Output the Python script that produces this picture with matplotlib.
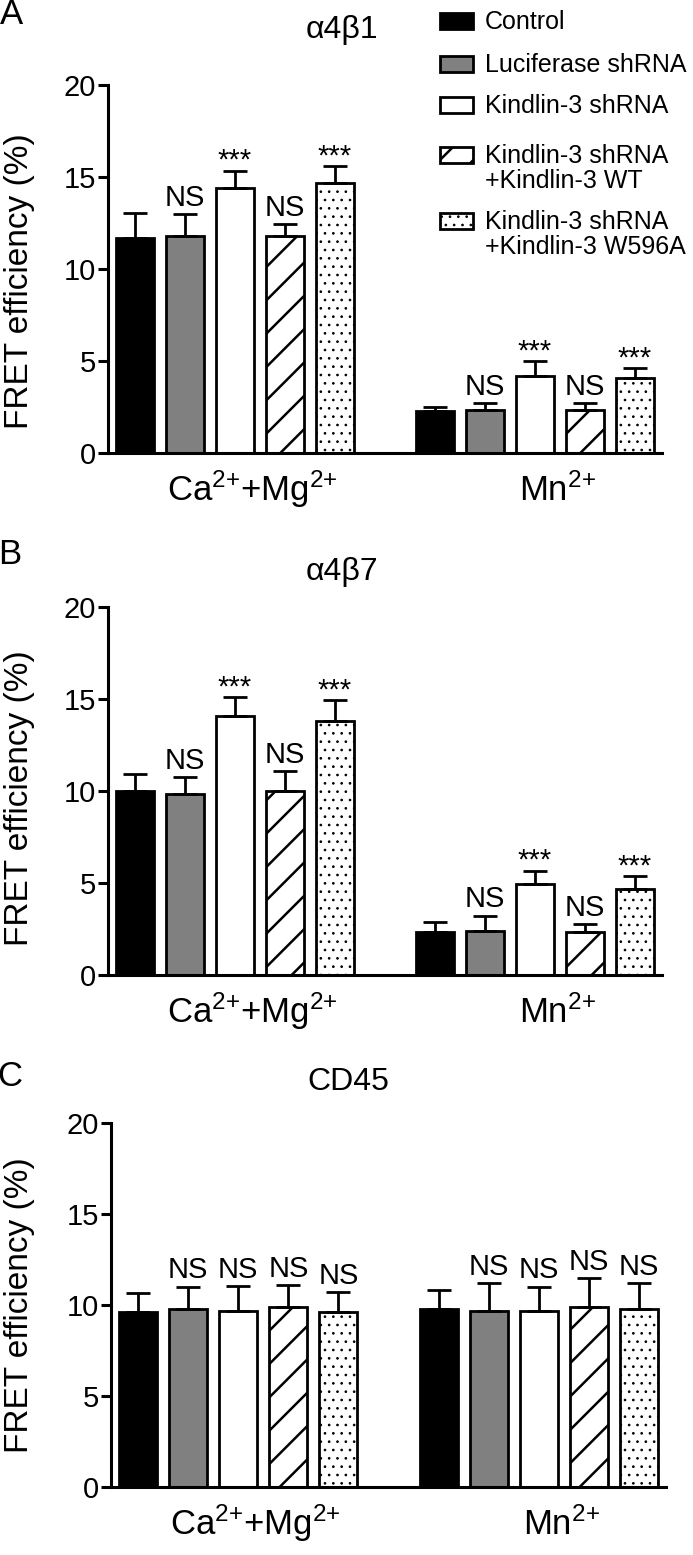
import matplotlib
matplotlib.use("Agg")
import matplotlib.pyplot as plt
import matplotlib.transforms as mtransforms
from matplotlib.patches import Rectangle

plt.rcParams['font.family'] = ['Liberation Sans', 'DejaVu Sans']
plt.rcParams['mathtext.default'] = 'regular'
plt.rcParams['hatch.linewidth'] = 1.8

# ---- data ----
groups = ['Ca$^{2{+}}$+Mg$^{2{+}}$', 'Mn$^{2{+}}$']
conditions = ['Control', 'Luciferase shRNA', 'Kindlin-3 shRNA',
              'Kindlin-3 shRNA\n+Kindlin-3 WT', 'Kindlin-3 shRNA\n+Kindlin-3 W596A']

a4b1_mean = [[11.7, 11.8, 14.4, 11.8, 14.7], [2.3, 2.35, 4.2, 2.35, 4.05]]
a4b1_err = [[1.35, 1.2, 0.95, 0.65, 0.9], [0.2, 0.35, 0.8, 0.35, 0.57]]
a4b1_sig = [['', 'NS', '***', 'NS', '***'], ['', 'NS', '***', 'NS', '***']]

a4b7_mean = [[10.0, 9.85, 14.1, 10.0, 13.8], [2.32, 2.41, 4.94, 2.35, 4.67]]
a4b7_err = [[0.9, 0.9, 1.0, 1.07, 1.14], [0.54, 0.81, 0.73, 0.4, 0.71]]
a4b7_sig = [['', 'NS', '***', 'NS', '***'], ['', 'NS', '***', 'NS', '***']]

cd45_mean = [[9.63, 9.76, 9.69, 9.87, 9.6], [9.76, 9.69, 9.65, 9.91, 9.8]]
cd45_err = [[1.05, 1.25, 1.36, 1.23, 1.13], [1.07, 1.5, 1.36, 1.59, 1.39]]
cd45_sig = [['', 'NS', 'NS', 'NS', 'NS'], ['', 'NS', 'NS', 'NS', 'NS']]

yticks = [0, 5, 10, 15, 20]

# ---- styles ----
facecolors = ['black', '#808080', 'white', 'white', 'white']
hatches = [None, None, None, '/', '..']
hatch_lw = [1.8, 1.8, 1.8, 1.8, 0.7]

W, H = 693, 1555


def fx(x):
  return x / W


def fy(y):
  return 1 - y / H


def set_hlw(patch, lw):
  try:
    patch.set_hatch_linewidth(lw)
  except AttributeError:
    pass


def draw_panel(fig, rect_px, means, errs, sigs, title, letter, title_px, letter_px, ylab_px):
  left, top, right, bottom = rect_px
  ax = fig.add_axes([fx(left), fy(bottom), (right - left) / W, (bottom - top) / H])
  ax_h = bottom - top

  for g in range(len(groups)):
    for i in range(len(conditions)):
      x = g * 6 + i
      with plt.rc_context({'hatch.linewidth': hatch_lw[i]}):
        bars = ax.bar(x, means[g][i], width=0.76, color=facecolors[i],
                      edgecolor='black', linewidth=2.0, hatch=hatches[i], zorder=2)
      for b in bars:
        set_hlw(b, hatch_lw[i])
      ax.errorbar(x, means[g][i], yerr=[[0], [errs[g][i]]], fmt='none',
                  ecolor='black', elinewidth=2.0, capsize=8.3, capthick=2.0, zorder=3)
      top_y = means[g][i] + errs[g][i]
      if sigs[g][i] == 'NS':
        ax.text(x, top_y + 0.45, 'NS', ha='center', va='baseline', fontsize=21)
      elif sigs[g][i]:
        ax.text(x, top_y + 0.1, sigs[g][i], ha='center', va='baseline', fontsize=21)

  ax.set_xlim(-0.54, 10.54)
  ax.set_ylim(0, 20)
  ax.set_yticks(yticks)
  ax.set_xticks([])
  for s in ['top', 'right']:
    ax.spines[s].set_visible(False)
  for s in ['left', 'bottom']:
    ax.spines[s].set_linewidth(2.2)
  ax.tick_params(axis='y', labelsize=21, length=7, width=2.2, pad=1.5, direction='out')

  trans = mtransforms.blended_transform_factory(ax.transData, ax.transAxes)
  label_x = [2.35, 8.45]
  for g in range(len(groups)):
    ax.text(label_x[g], -48 / ax_h, groups[g], transform=trans,
            ha='center', va='baseline', fontsize=25)

  fig.text(fx(title_px[0]), fy(title_px[1]), title, ha='center', va='center', fontsize=23)
  fig.text(fx(letter_px[0]), fy(letter_px[1]), letter, ha='center', va='center', fontsize=25)
  fig.text(fx(ylab_px[0]), fy(ylab_px[1]), 'FRET efficiency (%)', rotation=90,
           ha='center', va='center', fontsize=24)
  return ax


fig = plt.figure(figsize=(6.93, 15.55), dpi=100)

draw_panel(fig, (108, 85, 662, 453), a4b1_mean, a4b1_err, a4b1_sig,
           'α4β1', 'A', (342, 30), (12, 14), (20, 281))
draw_panel(fig, (108, 607, 662, 975), a4b7_mean, a4b7_err, a4b7_sig,
           'α4β7', 'B', (342, 572), (10, 554), (20, 798))
draw_panel(fig, (111, 1123, 666, 1487), cd45_mean, cd45_err, cd45_sig,
           'CD45', 'C', (348, 1082), (10, 1076), (20, 1305))

# legend drawn by hand so multi-line labels line up with the swatch
legend_baselines = [29, 72, 113, 163, 229]
for i, lab in enumerate(conditions):
  base = legend_baselines[i]
  cy = base - 8
  with plt.rc_context({'hatch.linewidth': hatch_lw[i]}):
    r = Rectangle((fx(440), fy(cy + 8)), 33 / W, 16 / H, transform=fig.transFigure,
                  facecolor=facecolors[i], edgecolor='black', linewidth=2.0,
                  hatch=hatches[i])
  set_hlw(r, hatch_lw[i])
  fig.add_artist(r)
  for k, line in enumerate(lab.split('\n')):
    fig.text(fx(485), fy(base + 25 * k), line, ha='left', va='baseline', fontsize=18)

fig.savefig('out.png', dpi=100)
